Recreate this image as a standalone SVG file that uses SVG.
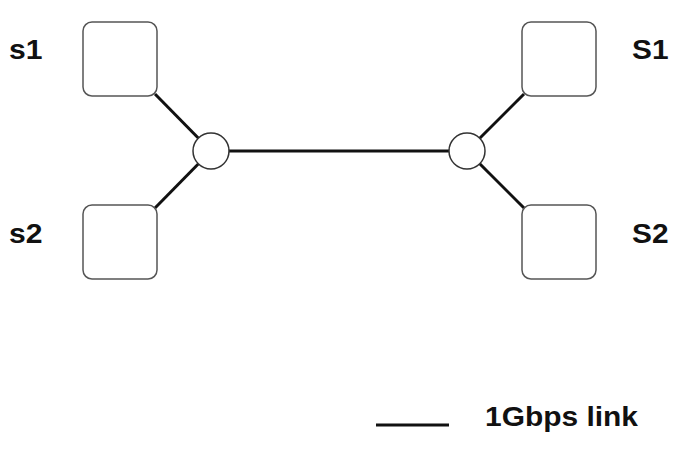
<svg xmlns="http://www.w3.org/2000/svg" width="685" height="461" viewBox="0 0 685 461">
<style>
.box{fill:#fff;stroke:#555;stroke-width:1.5}
.hub{fill:#fff;stroke:#333;stroke-width:1.5}
.link{stroke:#111;stroke-width:3;fill:none}
.lbl{font-family:"Liberation Sans",Arial,sans-serif;font-weight:bold;font-size:27px;fill:#111}
</style>
<rect width="685" height="461" fill="#fff"/>
<g id="connectors">
<line class="link" x1="155" y1="94" x2="211" y2="151"/>
<line class="link" x1="155" y1="208" x2="211" y2="151"/>
<line class="link" x1="211" y1="151" x2="467" y2="151"/>
<line class="link" x1="524" y1="94" x2="467" y2="151"/>
<line class="link" x1="524" y1="208" x2="467" y2="151"/>
</g>
<g id="s1"><rect class="box" x="83" y="22" width="74" height="74" rx="9"/><text class="lbl" x="9" y="59" textLength="33.5" lengthAdjust="spacingAndGlyphs">s1</text></g>
<g id="s2"><rect class="box" x="83" y="205" width="74" height="74" rx="9"/><text class="lbl" x="9" y="243" textLength="33.5" lengthAdjust="spacingAndGlyphs">s2</text></g>
<g id="S1"><rect class="box" x="522" y="22" width="74" height="74" rx="9"/><text class="lbl" x="632" y="59" textLength="36.5" lengthAdjust="spacingAndGlyphs">S1</text></g>
<g id="S2"><rect class="box" x="522" y="205" width="74" height="74" rx="9"/><text class="lbl" x="632" y="243" textLength="36.5" lengthAdjust="spacingAndGlyphs">S2</text></g>
<g id="hubL"><circle class="hub" cx="211" cy="151" r="18"/></g>
<g id="hubR"><circle class="hub" cx="467" cy="151" r="18"/></g>
<g id="legend">
<line class="link" x1="376" y1="425" x2="449" y2="425"/>
<text class="lbl" x="485" y="426" textLength="153" lengthAdjust="spacingAndGlyphs">1Gbps link</text>
</g>
</svg>
